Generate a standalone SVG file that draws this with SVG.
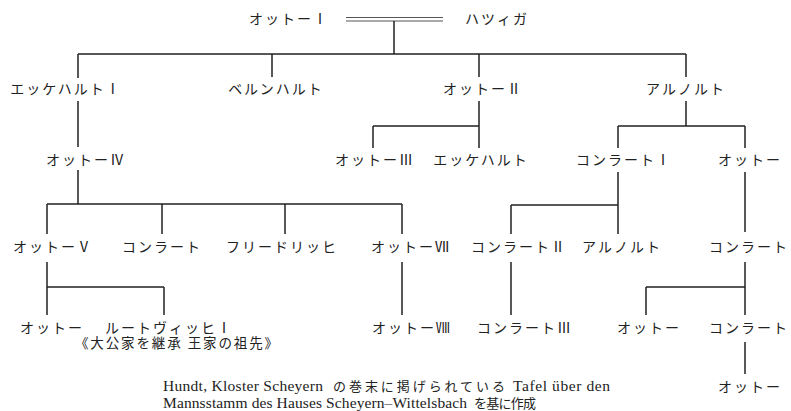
<svg xmlns="http://www.w3.org/2000/svg" width="791" height="411" viewBox="0 0 791 411">
<style>
.n{font-family:"Liberation Serif","Noto Sans CJK JP",serif;font-size:14px;letter-spacing:2px;fill:#222;text-anchor:middle}
.note{font-family:"Liberation Serif","Noto Sans CJK JP",serif;font-size:13.5px;fill:#222}
.ft{font-family:"Liberation Serif","Noto Sans CJK JP",serif;font-size:15.5px;fill:#222}
.fj{font-family:"Noto Sans CJK JP",sans-serif;font-size:13px}
.c{fill:none;stroke:#222;stroke-width:1.5}
.d{fill:none;stroke:#555;stroke-width:1}
</style>
<rect width="791" height="411" fill="#fff"/>
<g id="connectors">
<path class="d" d="M346 17.5H443M346 21H443"/>
<path class="c" d="M394 21V54M78 54H686M78 54V78M272 54V77M479 54V77M686 54V77"/>
<path class="c" d="M78 101V147M78 170V204M47 204H402M47 204V234M162 204V234M285 204V234M402 204V234"/>
<path class="c" d="M47 262V315M47 287H164M164 287V315M402 262V315"/>
<path class="c" d="M479 101V148M373 126H479M373 126V148"/>
<path class="c" d="M686 101V126M618 126H745M618 126V148M745 126V148"/>
<path class="c" d="M618 172V234M511 205H618M511 205V234M745 172V232"/>
<path class="c" d="M511 262V315M745 262V315M646 287H745M646 287V315M745 342V374"/>
</g>
<g id="otto1"><text class="n" x="289" y="24">オットーⅠ</text></g>
<g id="hazziga"><text class="n" x="497" y="24">ハツィガ</text></g>
<g id="eckhart1"><text class="n" x="66" y="94">エッケハルトⅠ</text></g>
<g id="bernhard"><text class="n" x="276" y="94">ベルンハルト</text></g>
<g id="otto2"><text class="n" x="483" y="94">オットーⅡ</text></g>
<g id="arnold1"><text class="n" x="686" y="94">アルノルト</text></g>
<g id="otto4"><text class="n" x="86" y="165">オットーⅣ</text></g>
<g id="otto3"><text class="n" x="375" y="165">オットーⅢ</text></g>
<g id="eckhart"><text class="n" x="481" y="165">エッケハルト</text></g>
<g id="konrad1"><text class="n" x="624" y="165">コンラートⅠ</text></g>
<g id="otto_r"><text class="n" x="750" y="165">オットー</text></g>
<g id="otto5"><text class="n" x="53" y="252">オットーⅤ</text></g>
<g id="konrad_a"><text class="n" x="162" y="252">コンラート</text></g>
<g id="friedrich"><text class="n" x="282" y="252">フリードリッヒ</text></g>
<g id="otto7"><text class="n" x="411" y="252">オットーⅦ</text></g>
<g id="konrad2"><text class="n" x="519" y="252">コンラートⅡ</text></g>
<g id="arnold2"><text class="n" x="622" y="252">アルノルト</text></g>
<g id="konrad_b"><text class="n" x="749" y="252">コンラート</text></g>
<g id="otto_a"><text class="n" x="52" y="333">オットー</text></g>
<g id="ludwig1"><text class="n" x="169" y="333">ルートヴィッヒⅠ</text><text class="note" x="75" y="348" textLength="203" lengthAdjust="spacing">《大公家を継承 王家の祖先》</text></g>
<g id="otto8"><text class="n" x="412" y="333">オットーⅧ</text></g>
<g id="konrad3"><text class="n" x="525" y="333">コンラートⅢ</text></g>
<g id="otto_b"><text class="n" x="649" y="333">オットー</text></g>
<g id="konrad_c"><text class="n" x="749" y="333">コンラート</text></g>
<g id="otto_c"><text class="n" x="750" y="392">オットー</text></g>
<g id="source">
<text class="ft" y="391"><tspan x="163" textLength="160" lengthAdjust="spacing">Hundt, Kloster Scheyern</tspan><tspan class="fj" x="333" textLength="172" lengthAdjust="spacing">の巻末に掲げられている</tspan><tspan x="513" textLength="97" lengthAdjust="spacing">Tafel über den</tspan></text>
<text class="ft" y="408"><tspan x="163" textLength="304" lengthAdjust="spacing">Mannsstamm des Hauses Scheyern–Wittelsbach</tspan><tspan class="fj" x="474" textLength="62" lengthAdjust="spacing">を基に作成</tspan></text>
</g>
</svg>
